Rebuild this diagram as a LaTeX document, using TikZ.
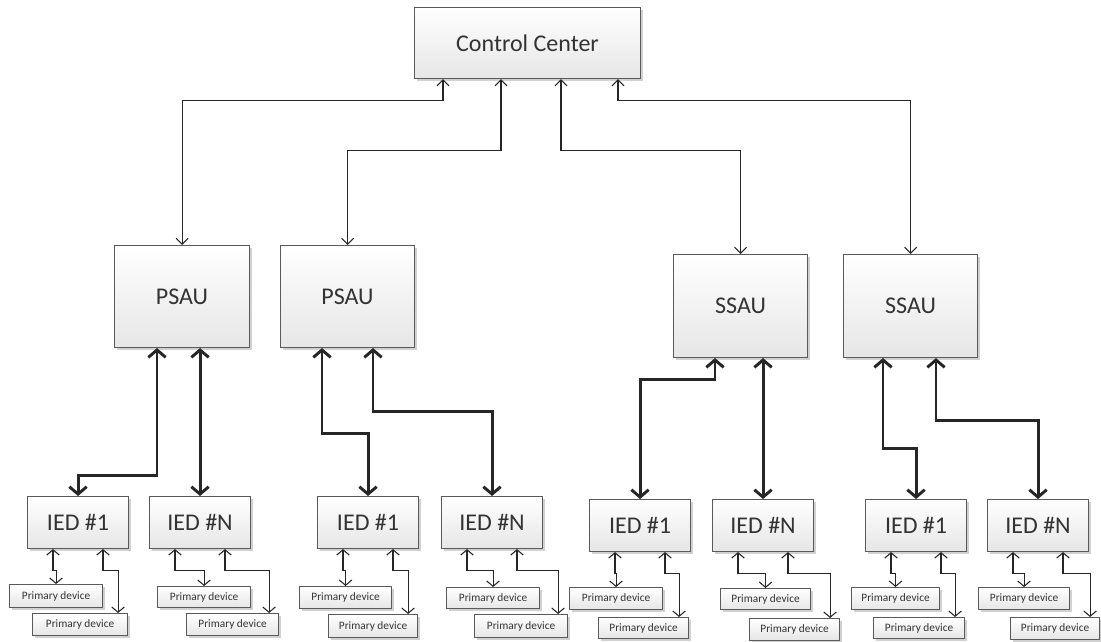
\documentclass[tikz,border=0pt]{standalone}
\usepackage{fontspec}
\setmainfont{Carlito}
\usetikzlibrary{arrows.meta,shadows,calc}

\definecolor{boxline}{HTML}{5A5A5A}
\definecolor{boxfill}{HTML}{E6E6E6}
\definecolor{txt}{HTML}{333333}
\definecolor{wire}{HTML}{262626}

\newlength\pxu
\setlength\pxu{0.75pt}

% \blk{style}{name}{x}{y}{width}{height}{text}: box placed by its top-left corner
\newcommand\blk[7]{%
  \node[#1, anchor=north west, minimum width=#5*\pxu, minimum height=#6*\pxu] (#2) at (#3,#4) {#7};}

% two device links below one IED
\newcommand\devpair[3]{%
  \draw[devlink] ($(#1.south west)+(26,0)$) -- ++(0,21) -| (#2.north);
  \draw[devlink] ($(#1.south west)+(76,0)$) -- ++(0,21) -| ($(#3.north east)+(-10,0)$);}

\begin{document}
\begin{tikzpicture}[x=0.75pt, y=-0.75pt,
  box/.style={draw=boxline, line width=0.8pt, top color=white, bottom color=boxfill,
    inner sep=0pt, text=txt,
    drop shadow={shadow xshift=1.5pt, shadow yshift=-1.5pt, opacity=0.18, fill=black}},
  bigbox/.style={box, font=\fontsize{18}{21}\selectfont},
  devbox/.style={box, font=\fontsize{8.5}{10}\selectfont},
  ctrllink/.style={draw=wire, line width=0.8pt,
    {Straight Barb[length=4.5pt,width=9pt]}-{Straight Barb[length=4.5pt,width=9pt]}},
  devlink/.style={draw=wire, line width=0.8pt,
    {Straight Barb[length=4pt,width=9.5pt]}-{Straight Barb[length=4pt,width=9.5pt]}},
  buslink/.style={draw=wire, line width=2.2pt,
    {Straight Barb[length=5.5pt,width=13pt]}-{Straight Barb[length=5.5pt,width=13pt]}}
]
\useasboundingbox (0,0) rectangle (1101,642);

% top level
\blk{bigbox}{cc}{414}{7}{226}{71}{Control Center}

% aggregation units
\blk{bigbox}{psau1}{114}{245}{135}{102}{PSAU}
\blk{bigbox}{psau2}{280}{245}{134}{102}{PSAU}
\blk{bigbox}{ssau1}{673}{254}{134}{103}{SSAU}
\blk{bigbox}{ssau2}{843}{254}{134}{103}{SSAU}

% IEDs
\blk{bigbox}{ied11}{27}{496}{101}{52}{IED \#1}
\blk{bigbox}{ied1N}{149}{496}{101}{52}{IED \#N}
\blk{bigbox}{ied21}{317}{496}{101}{52}{IED \#1}
\blk{bigbox}{ied2N}{441}{496}{101}{52}{IED \#N}
\blk{bigbox}{ied31}{589}{499}{101}{52}{IED \#1}
\blk{bigbox}{ied3N}{712}{499}{101}{52}{IED \#N}
\blk{bigbox}{ied41}{865}{499}{101}{52}{IED \#1}
\blk{bigbox}{ied4N}{987}{499}{101}{52}{IED \#N}

% primary devices
\blk{devbox}{pd11a}{9}{584}{93}{23}{Primary device}
\blk{devbox}{pd11b}{32}{613}{95}{22}{Primary device}
\blk{devbox}{pd1Na}{157}{586}{93}{21}{Primary device}
\blk{devbox}{pd1Nb}{186}{613}{92}{22}{Primary device}
\blk{devbox}{pd21a}{299}{586}{92}{22}{Primary device}
\blk{devbox}{pd21b}{328}{614}{89}{23}{Primary device}
\blk{devbox}{pd2Na}{446}{587}{93}{21}{Primary device}
\blk{devbox}{pd2Nb}{474}{614}{93}{23}{Primary device}
\blk{devbox}{pd31a}{569}{587}{93}{22}{Primary device}
\blk{devbox}{pd31b}{598}{617}{90}{21}{Primary device}
\blk{devbox}{pd3Na}{720}{588}{90}{21}{Primary device}
\blk{devbox}{pd3Nb}{749}{618}{90}{22}{Primary device}
\blk{devbox}{pd41a}{851}{587}{88}{22}{Primary device}
\blk{devbox}{pd41b}{873}{617}{91}{21}{Primary device}
\blk{devbox}{pd4Na}{978}{587}{91}{22}{Primary device}
\blk{devbox}{pd4Nb}{1010}{617}{89}{22}{Primary device}

% control center links
\draw[ctrllink] ($(cc.south west)+(29,0)$) -- ++(0,21) -| (psau1.north);
\draw[ctrllink] ($(cc.south west)+(87,0)$) -- ++(0,71) -| (psau2.north);
\draw[ctrllink] ($(cc.south west)+(147,0)$) -- ++(0,71) -| (ssau1.north);
\draw[ctrllink] ($(cc.south west)+(204,0)$) -- ++(0,21) -| (ssau2.north);

% aggregation unit to IED links
\draw[buslink] ($(psau1.south west)+(43,0)$) -- ++(0,127) -| (ied11.north);
\draw[buslink] (ied1N.north |- psau1.south) -- (ied1N.north);
\draw[buslink] ($(psau2.south west)+(42,0)$) -- ++(0,85) -| (ied21.north);
\draw[buslink] ($(psau2.south west)+(93,0)$) -- ++(0,63) -| (ied2N.north);
\draw[buslink] ($(ssau1.south west)+(42,0)$) -- ++(0,21) -| (ied31.north);
\draw[buslink] (ied3N.north |- ssau1.south) -- (ied3N.north);
\draw[buslink] ($(ssau2.south west)+(40,0)$) -- ++(0,90) -| (ied41.north);
\draw[buslink] ($(ssau2.south west)+(93,0)$) -- ++(0,62) -| (ied4N.north);

% IED to primary device links
\devpair{ied11}{pd11a}{pd11b}
\devpair{ied1N}{pd1Na}{pd1Nb}
\devpair{ied21}{pd21a}{pd21b}
\devpair{ied2N}{pd2Na}{pd2Nb}
\devpair{ied31}{pd31a}{pd31b}
\devpair{ied3N}{pd3Na}{pd3Nb}
\devpair{ied41}{pd41a}{pd41b}
\devpair{ied4N}{pd4Na}{pd4Nb}
\end{tikzpicture}
\end{document}
